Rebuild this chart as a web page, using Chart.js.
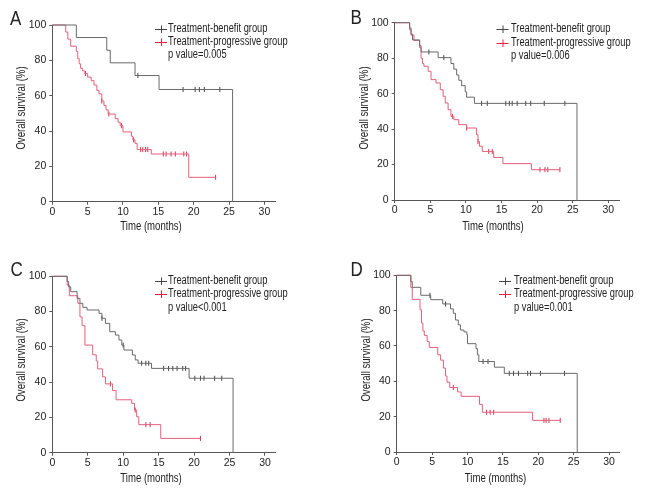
<!DOCTYPE html>
<html><head><meta charset="utf-8">
<script src="https://cdn.jsdelivr.net/npm/chart.js@4"></script>
<style>
html,body{margin:0;padding:0;background:#fff;}
#wrap{position:relative;width:648px;height:504px;background:#fff;}
canvas{position:absolute;}
</style></head><body><div id="wrap">
<canvas id="cA" width="324" height="252" style="left:0;top:0"></canvas>
<canvas id="cB" width="324" height="252" style="left:324px;top:0"></canvas>
<canvas id="cC" width="324" height="252" style="left:0;top:252px"></canvas>
<canvas id="cD" width="324" height="252" style="left:324px;top:252px"></canvas>
</div>
<script>
// ---- data ----
const xTicks = [0, 5, 10, 15, 20, 25, 30];
const yTicks = [0, 20, 40, 60, 80, 100];
const legendLabels = ['Treatment-benefit group', 'Treatment-progressive group'];
const pValues = ['p value=0.005', 'p value=0.006', 'p value<0.001', 'p value=0.001'];
const panelLetters = ['A', 'B', 'C', 'D'];
const xTitle = 'Time (months)';
const yTitle = 'Overall survival (%)';

// Panel A
const aBenefitT = [0, 3.4, 7.7, 8.2, 11.7, 15.1, 25.5];
const aBenefitS = [100, 92.9, 85.7, 78.6, 71.4, 63.5, 0];
const aBenefitCens = [12.1, 18.5, 20.2, 20.8, 21.5, 23.7];
const aProgT = [0, 1.9, 2.2, 2.6, 3.4, 3.6, 3.8, 4.0, 4.3, 4.6, 5.0, 5.5, 5.9, 6.3, 6.6, 7.0, 7.3, 7.6, 7.9, 8.9, 9.3, 9.6, 10.0, 11.2, 11.4, 11.7, 12.0, 14.0, 19.3, 23.1];
const aProgS = [100, 96, 92, 88, 85, 81, 78, 75.5, 74, 72.5, 70.5, 68.5, 66, 63, 61, 57, 54.5, 52, 49.6, 47, 45, 43, 39.5, 37, 35, 33, 29.5, 27, 13.8, 13.8];
const aProgCens = [4.7, 7.0, 8.0, 9.8, 11.5, 12.5, 12.8, 13.2, 13.5, 15.7, 16.1, 16.8, 17.4, 18.6, 19.0, 23.1];

// Panel B
const bBenefitT = [0, 2.1, 2.3, 2.5, 3.5, 3.7, 6.1, 7.9, 8.3, 8.7, 9.0, 9.4, 9.9, 10.1, 11.2, 25.6];
const bBenefitS = [100, 97, 93.5, 90.3, 87, 83.5, 80.3, 77, 73.8, 70.5, 67.5, 64.5, 61, 58, 54.5, 0];
const bBenefitCens = [4.8, 6.9, 12.2, 13.0, 15.6, 16.1, 16.5, 17.2, 18.4, 19.1, 21.0, 23.9];
const bProgT = [0, 2.1, 2.3, 2.7, 3.5, 3.7, 3.9, 4.1, 4.7, 5.1, 5.8, 6.4, 6.8, 7.1, 7.5, 7.9, 8.3, 9.0, 10.1, 11.5, 11.7, 11.9, 12.3, 13.9, 15.2, 19.2, 23.2];
const bProgS = [100, 96, 93, 90, 86, 80, 77, 75.4, 72.6, 67.9, 66, 62.2, 58.5, 54.7, 50.9, 47.2, 45.3, 42.5, 40.6, 36.8, 33, 30.3, 27.4, 24, 20.5, 17.1, 17.1];
const bProgCens = [8.1, 10.1, 11.7, 13.2, 13.7, 20.4, 21.1, 21.5, 23.2];

// Panel C
const cBenefitT = [0, 2.1, 2.3, 2.6, 3.5, 3.9, 4.3, 4.9, 6.6, 7.0, 7.5, 8.1, 8.9, 9.4, 9.8, 10.1, 11.3, 11.7, 12.1, 14.0, 19.3, 25.5];
const cBenefitS = [100, 97, 94, 91.3, 87.5, 84.7, 82.4, 80.9, 79, 76.2, 73.3, 68.6, 66.7, 63.9, 61, 58.2, 55.4, 52.6, 50.7, 47.8, 42.2, 0];
const cBenefitCens = [7.0, 10.0, 12.6, 13.2, 13.6, 15.7, 16.4, 17.0, 17.6, 18.4, 18.8, 20.1, 20.9, 21.4, 22.9, 23.9];
const cProgT = [0, 2.1, 2.4, 3.6, 3.9, 4.2, 4.6, 5.7, 6.2, 6.4, 7.1, 7.5, 8.5, 9.0, 11.2, 11.6, 11.9, 12.2, 15.3, 20.9];
const cProgS = [100, 95, 89, 84.7, 77, 72, 61, 55.5, 52, 47.5, 43, 39, 35.2, 30, 28, 24.2, 20.4, 15.9, 8.1, 8.1];
const cProgCens = [8.2, 11.7, 13.2, 13.8, 20.9];

// Panel D
const dBenefitT = [0, 2.0, 2.2, 3.4, 4.8, 6.5, 7.6, 8.0, 8.3, 8.7, 9.0, 9.5, 9.9, 10.0, 11.2, 11.4, 11.6, 13.8, 15.2, 25.5];
const dBenefitS = [100, 96.4, 93.2, 88.7, 86.2, 83.8, 81, 78.5, 74.7, 72, 69, 68, 66.5, 61.3, 58.5, 55, 51.2, 48, 44.5, 0];
const dBenefitCens = [4.7, 6.9, 12.2, 12.9, 15.9, 16.5, 17.2, 18.5, 18.9, 20.3, 23.7];
const dProgT = [0, 2.0, 2.2, 3.3, 3.5, 3.7, 3.9, 4.3, 4.6, 5.8, 6.2, 6.6, 6.9, 7.1, 7.5, 8.6, 9.1, 11.7, 12.1, 19.2, 23.1];
const dProgS = [100, 93, 86.4, 80.5, 73, 68.5, 66, 62.5, 59.2, 55, 52, 47.5, 43, 39.5, 36.5, 34, 31.5, 27, 22.5, 17.9, 17.9];
const dProgCens = [8.0, 12.7, 13.2, 13.7, 20.8, 21.1, 21.5, 23.1];

// ---- styles / layout ----
const FONT = "'Liberation Sans Narrow', 'Liberation Sans', Arial, sans-serif";
const GRAY = '#6a6a6a', GRAY_MARK = '#444', RED = '#e3607c', RED_MARK = '#d8324f', RED_LEG = '#e8203c';
const AXIS = '#555', TEXT = '#222';
const NARROW = 0.775;

const layouts = [
  {left: 52.3, top: 25, right: 275, bottom: 201.7, yTX: 22, yTY: 108, xTX: 151, xTY: 227, letX: 10, letY: 25, legX: 161, legTX: 168, legY: [29, 42, 55]},
  {left: 70.7, top: 22.7, right: 295, bottom: 200, yTX: 40.7, yTY: 108, xTX: 169, xTY: 227, letX: 26.5, letY: 24, legX: 178.5, legTX: 187, legY: [29, 43, 56]},
  {left: 52.3, top: 24.3, right: 275.6, bottom: 200.7, yTX: 22, yTY: 108, xTX: 151, xTY: 227, letX: 10.5, letY: 23.5, legX: 161, legTX: 168, legY: [29, 42, 56]},
  {left: 72.7, top: 23.3, right: 295.7, bottom: 200, yTX: 42.7, yTY: 108, xTX: 171.5, xTY: 227, letX: 26.5, letY: 23.5, legX: 181, legTX: 190, legY: [29, 42, 56]}
];

function pts(T, S) { return T.map((t, i) => ({x: t, y: S[i]})); }
function survAt(T, S, t) { let s = S[0]; for (let i = 0; i < T.length; i++) { if (T[i] <= t) s = S[i]; } return s; }
function censPts(cens, T, S) { return cens.map(t => ({x: t, y: survAt(T, S, t)})); }

function narrowText(ctx, text, x, y, sx, rot) {
  ctx.save();
  ctx.translate(x, y);
  if (rot) ctx.rotate(rot);
  ctx.scale(sx, 1);
  ctx.fillText(text, 0, 0);
  ctx.restore();
}

function decorPlugin(idx) {
  const L = layouts[idx];
  return {
    id: 'decor' + idx,
    afterDraw(chart) {
      const ctx = chart.ctx;
      ctx.save();
      ctx.fillStyle = TEXT;
      // panel letter
      ctx.font = '20px ' + FONT;
      ctx.textAlign = 'left'; ctx.textBaseline = 'alphabetic';
      narrowText(ctx, panelLetters[idx], L.letX, L.letY, 0.85);
      // legend
      ctx.font = '12px ' + FONT;
      ctx.textBaseline = 'middle';
      const cols = [GRAY_MARK, RED_LEG];
      for (let r = 0; r < 2; r++) {
        const y = L.legY[r];
        ctx.strokeStyle = cols[r]; ctx.lineWidth = 1;
        ctx.beginPath();
        ctx.moveTo(L.legX - 6, y + 0.5); ctx.lineTo(L.legX + 6, y + 0.5);
        ctx.moveTo(L.legX + 0.5, y - 3.5); ctx.lineTo(L.legX + 0.5, y + 4);
        ctx.stroke();
        ctx.fillStyle = TEXT;
        narrowText(ctx, legendLabels[r], L.legTX, y, NARROW);
      }
      narrowText(ctx, pValues[idx], L.legTX, L.legY[2], NARROW);
      // axis titles
      ctx.font = '12px ' + FONT;
      ctx.textAlign = 'center';
      narrowText(ctx, xTitle, L.xTX, L.xTY, 0.8);
      narrowText(ctx, yTitle, L.yTX, L.yTY, 0.8, -Math.PI / 2);
      ctx.restore();
    }
  };
}

function makeChart(id, idx, bT, bS, bC, pT, pS, pC) {
  const L = layouts[idx];
  const axisCommon = {
    type: 'linear',
    grid: {drawOnChartArea: false, drawTicks: true, tickLength: 3, color: AXIS, lineWidth: 1},
    border: {display: true, color: AXIS, width: 1},
    ticks: {color: TEXT, font: {family: FONT, size: 10.5}, padding: 2, maxRotation: 0, autoSkip: false}
  };
  return new Chart(document.getElementById(id), {
    type: 'line',
    data: {datasets: [
      {data: pts(bT, bS), borderColor: GRAY, borderWidth: 1, stepped: 'before', pointRadius: 0, fill: false, clip: false, tension: 0},
      {data: pts(pT, pS), borderColor: RED, borderWidth: 1, stepped: 'before', pointRadius: 0, fill: false, clip: false, tension: 0},
      {data: censPts(bC, bT, bS), showLine: false, pointStyle: 'line', rotation: 90, pointRadius: 2.5, borderColor: GRAY_MARK, borderWidth: 1, clip: false},
      {data: censPts(pC, pT, pS), showLine: false, pointStyle: 'line', rotation: 90, pointRadius: 2.5, borderColor: RED_MARK, borderWidth: 1, clip: false}
    ]},
    options: {
      responsive: false, animation: false, events: [],
      layout: {padding: {left: 0, top: L.top, right: 324 - L.right, bottom: 0}},
      plugins: {legend: {display: false}, tooltip: {enabled: false}, title: {display: false}},
      scales: {
        x: Object.assign({}, axisCommon, {
          min: 0, max: 31.5, position: 'bottom',
          afterFit(s) { s.height = 252 - L.bottom; },
          afterBuildTicks(s) { s.ticks = xTicks.map(v => ({value: v})); },
          ticks: Object.assign({}, axisCommon.ticks, {padding: 1})
        }),
        y: Object.assign({}, axisCommon, {
          min: 0, max: 100, position: 'left',
          afterFit(s) { s.width = L.left; },
          afterBuildTicks(s) { s.ticks = yTicks.map(v => ({value: v})); },
          ticks: Object.assign({}, axisCommon.ticks, {padding: 3})
        })
      }
    },
    plugins: [decorPlugin(idx)]
  });
}

makeChart('cA', 0, aBenefitT, aBenefitS, aBenefitCens, aProgT, aProgS, aProgCens);
makeChart('cB', 1, bBenefitT, bBenefitS, bBenefitCens, bProgT, bProgS, bProgCens);
makeChart('cC', 2, cBenefitT, cBenefitS, cBenefitCens, cProgT, cProgS, cProgCens);
makeChart('cD', 3, dBenefitT, dBenefitS, dBenefitCens, dProgT, dProgS, dProgCens);
</script>
</body></html>
